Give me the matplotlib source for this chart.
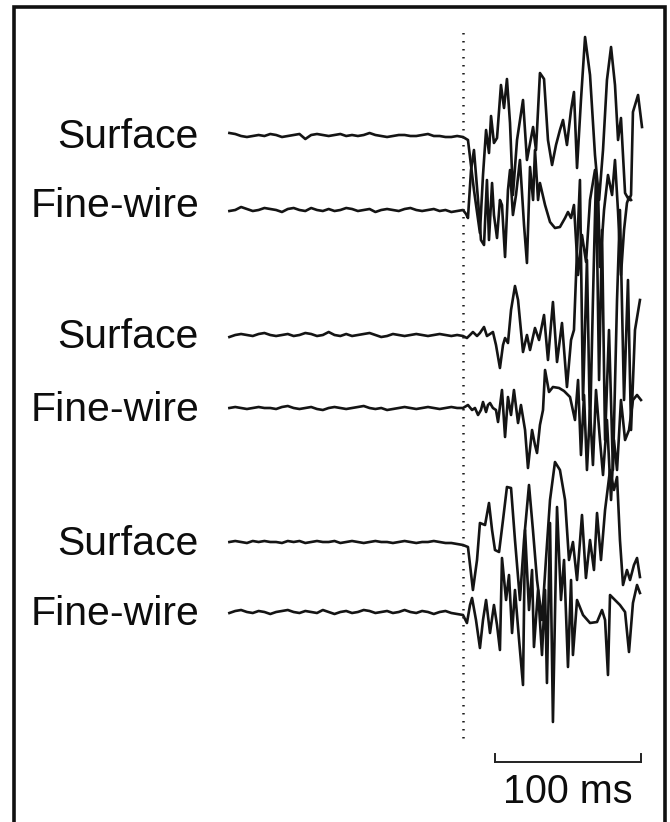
import numpy as np
import matplotlib
matplotlib.use("Agg")
from matplotlib import pyplot as plt
from matplotlib.patches import Rectangle

plt.rcParams['font.family'] = ['Liberation Sans', 'DejaVu Sans']

# labels of the six traces, top to bottom
labels = ['Surface', 'Fine-wire', 'Surface', 'Fine-wire', 'Surface', 'Fine-wire']
# vertical position of each trace (1 unit = 1 px), and of its label baseline
offsets = [687, 612, 487, 414, 280, 210]
label_y = [674, 605, 474, 401, 267, 197]

# pre-onset baseline, sampled every 4 ms from -160 ms
t_base = np.arange(-160, 0, 4)
base_s1 = [2,1,-1,-2,-1,0,-1,1,0,-2,-1,0,1,-4,0,1,0,-1,0,1,-1,0,-1,0,2,0,-1,-2,-1,0,0,-1,-1,0,1,-1,-1,-2,-2,-1]
base_f1 = [-1,0,3,1,-1,0,2,1,0,-2,1,2,0,-1,2,0,-1,1,-1,0,2,1,-1,0,1,-2,0,1,0,-1,1,2,0,-1,0,1,-1,0,-2,-1]
base_s2 = [-2,0,1,0,-1,1,2,0,-1,0,1,-1,0,2,1,-1,0,3,0,-1,1,-1,0,1,2,0,-2,-1,1,0,-1,0,1,0,-1,0,1,0,-1,0]
base_f2 = [0,1,0,-1,0,1,0,0,-1,1,2,0,-1,0,1,-1,-2,0,1,0,-1,0,1,2,0,-1,0,-2,-1,0,1,0,-1,0,1,0,-1,0,1,0]
base_s3 = [0,1,0,-1,1,0,1,0,0,-1,1,0,1,-1,0,1,0,0,1,-1,0,1,0,-1,0,1,0,0,-1,0,1,0,-1,0,0,1,0,-1,-1,-2]
base_f3 = [-1,1,2,0,-1,1,0,-2,0,1,2,0,-1,1,0,-1,2,0,-2,0,1,-1,0,2,1,-1,0,1,-1,0,2,0,-1,1,0,-2,0,1,-1,-2]

# burst after onset: times (ms) and amplitudes
t_s1 = [0,3.4,7.5,11.6,13.7,15.8,17.8,19.2,21.2,23.3,26,28.1,30.1,32.2,34.2,37,41.1,43.8,48,50,
        52.7,55.5,58.2,61,63.7,66.4,68.5,71.2,74,76,78.1,80.8,83.6,87,90.4,93.2,95.9,98.6,101.4,104.1,
        106.2,108.2,111,113.7,115.1,116.4,119.9,122.6]
v_s1 = [-2,-5,-55,-98,-40,5,-18,19,-8,-3,50,27,56,12,-60,-5,35,-25,8,-15,
        62,56,-5,-30,-10,5,15,-10,25,43,-33,35,98,60,-20,-65,-15,55,88,50,
        -5,17,-58,-65,-60,23,40,8]

t_f1 = [0,2.1,3.4,5.5,7.5,10.3,12.3,14.4,16.4,17.8,19.9,21.2,23.3,25.3,26.7,28.8,30.8,32.2,34.2,36.3,
        39,41.8,43.8,45.9,48,49.3,51.4,52.7,56.2,59.6,63,66.4,69.9,71.9,74,76,78.8,81.5,84.3,87,
        90.4,92.5,93.8,96.6,99.3,102.1,104.1,106.2,108.2,110.3,112.3,113.7,115.1]
v_f1 = [0,-4,-8,40,60,10,-30,-35,30,-30,27,-5,-28,10,5,-47,20,40,-5,15,
        50,-15,-53,43,10,60,10,27,5,-12,-18,-17,-8,-2,-8,5,-65,-25,-52,10,
        40,20,-57,0,35,15,50,-2,-65,-20,7,13,10]

t_s2 = [0,2.7,4.8,6.8,9.6,11.6,14.4,16.4,18.5,20.5,22.6,25.3,27.4,28.8,30.8,32.9,35.6,37.7,39,41.1,
        43.8,45.9,49.3,52.1,55.5,58.2,61.6,64.4,67.8,71.2,74,76,78.1,80.1,82.2,84.9,87,89,91.1,93.2,
        95.2,97.3,100,102.7,105.5,107.5,110.3,113,115.1,117.8,121.2]
v_s2 = [-1,-3,0,3,-1,2,8,-1,1,3,-10,-33,-10,-3,-8,25,49,35,15,-17,
        0,-15,7,-5,20,-25,33,-27,12,-52,-5,5,85,155,-65,75,-95,35,160,-45,
        105,-105,5,-135,35,125,-65,55,-95,5,35]

t_f2 = [0,3.4,6.2,8.2,10.3,12.3,13.7,15.8,17.1,18.5,20.5,22.6,24,26.7,28.8,30.8,32.9,34.9,37.7,39.7,
        42.5,44.5,47.3,49.3,50.7,52.7,54.8,56.2,58.9,61.6,65.8,69.2,73.3,76.7,78.8,80.8,82.9,84.9,87,89,
        91.1,93.8,95.9,98.6,101.4,103.4,105.5,108.2,111,113.7,116.4,119.2,121.9]
v_f2 = [0,3,-2,0,-7,-2,6,-4,3,5,0,-2,-14,18,-29,11,-7,18,-15,3,
        -22,-60,-22,-37,-45,-17,-2,38,16,21,20,17,11,-12,28,-47,13,-62,-2,-57,
        18,-32,-67,-12,-92,-32,-62,8,-32,-22,8,13,8]

t_s3 = [0,3.4,6.8,9.6,11.6,15.1,17.8,19.9,21.9,24.7,27.4,30.1,32.9,35.6,39,41.8,45.2,47.9,50.7,54.1,
        56.8,59.6,63,66.4,69.9,72.6,75.3,78.1,81.5,84.2,87,89.7,91.8,94.5,97.3,100.7,103.4,105.5,107.5,109.6,
        112.3,114.4,117.1,119.2,121.2]
v_s3 = [-3,-5,-48,-18,19,17,39,12,-8,-10,22,55,54,2,-58,2,57,12,-38,-78,
        -18,42,80,72,42,-18,0,-38,27,-36,2,-28,29,-18,32,72,52,65,2,-43,
        -28,-38,-23,-16,-35]

t_f3 = [0,2.7,4.8,6.2,8.9,11.6,13.7,15.8,18.5,21.2,23.3,25.3,26.7,29.5,31.5,33.6,35.6,38.4,41.1,42.5,
        45.2,47.3,48.6,51.4,54.1,56.2,57.5,59.6,61.6,64.4,67.1,69.2,71.9,74,75.3,78.1,82.2,87,91.8,95.2,
        97.3,99.3,100.7,104.1,107.5,111,113.7,116.4,119.2,121.2]
v_f3 = [-3,-11,7,14,-8,-36,-8,12,-21,7,-13,-38,54,12,37,-21,22,-28,-73,82,
        2,42,-35,22,-43,22,-71,89,-110,105,12,52,-55,32,-43,12,-3,-11,-10,2,
        -8,-63,17,12,7,0,-40,9,27,19]

bases = [base_s1, base_f1, base_s2, base_f2, base_s3, base_f3]
bursts = [(t_s1, v_s1), (t_f1, v_f1), (t_s2, v_s2), (t_f2, v_f2), (t_s3, v_s3), (t_f3, v_f3)]

px_per_ms = 1.46
onset_px = 463

fig = plt.figure(figsize=(6.7, 8.22), dpi=100)
ax = fig.add_axes([0, 0, 1, 1])
ax.set_xlim(-onset_px / px_per_ms, (670 - onset_px) / px_per_ms)
ax.set_ylim(0, 822)
ax.axis('off')

for i in range(6):
    tb, vb = bursts[i]
    t = np.concatenate([t_base, tb])
    v = np.concatenate([bases[i], vb])
    ax.plot(t, offsets[i] + v, color='#141414', lw=1.9, solid_joinstyle='round')
    ax.text(-180.8, label_y[i], labels[i], ha='right', va='baseline', fontsize=29.5, color='#0d0d0d')

# onset marker
ax.vlines(0, 84, 792, colors='#1e1e1e', lw=1.8, linestyles=(0, (0.6, 2.6)))

# scale bar
ax.plot([22, 122], [60, 60], color='#222222', lw=1.4)
ax.plot([22, 22], [60, 68], color='#222222', lw=1.4)
ax.plot([122, 122], [60, 68], color='#222222', lw=1.4)
ax.text(72, 19, '100 ms', ha='center', va='baseline', fontsize=28.5, color='#0d0d0d')

# frame
ax.add_patch(Rectangle((13.5 / 670, -0.05), (665 - 13.5) / 670, 1.05 - 7.5 / 822,
                       transform=ax.transAxes, fill=False, lw=2.6, edgecolor='#111111'))

plt.savefig('out.png', dpi=100)
